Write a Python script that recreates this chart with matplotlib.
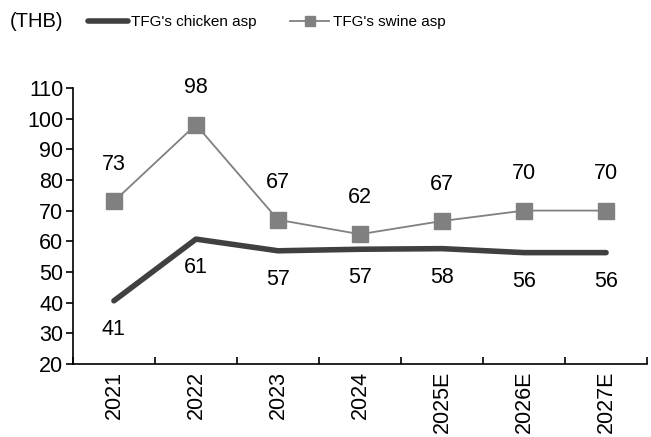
import matplotlib.pyplot as plt
import numpy as np

plt.rcParams['font.family'] = ['Liberation Sans', 'DejaVu Sans']

years = ['2021', '2022', '2023', '2024', '2025E', '2026E', '2027E']
chicken = [40.6, 60.7, 56.9, 57.4, 57.6, 56.3, 56.3]
swine = [73.0, 98.0, 67.0, 62.3, 66.6, 70.0, 70.0]

fig = plt.figure(figsize=(6.51, 4.37), dpi=100)
ax = fig.add_axes([0.112, 0.167, 0.882, 0.632])

x = np.arange(len(years))
ax.plot(x, chicken, color='#404040', lw=4, solid_capstyle='round',
        label="TFG's chicken asp", zorder=3)
ax.plot(x, swine, color='#808080', lw=1.3, marker='s', markersize=11,
        label="TFG's swine asp", zorder=3)

for xi, v in zip(x, swine):
    ax.annotate(f'{v:.0f}', (xi, v), xytext=(0, 19), textcoords='offset points',
                ha='center', va='bottom', fontsize=15.5)
for xi, v in zip(x, chicken):
    ax.annotate(f'{v:.0f}', (xi, v), xytext=(0, -13), textcoords='offset points',
                ha='center', va='top', fontsize=15.5)

ax.set_xlim(-0.5, len(years) - 0.5)
ax.set_ylim(20, 110)
ax.set_yticks(range(20, 111, 10))
ax.set_xticks(x)
ax.set_xticklabels(years, rotation=90, fontsize=15.5)
ax.tick_params(axis='x', length=0, pad=5)
ax.set_xticks(np.arange(-0.5, len(years), 1), minor=True)
ax.tick_params(axis='x', which='minor', direction='in', length=5, width=1.2)
ax.tick_params(axis='y', labelsize=15.5, length=5, width=1.2, pad=2)
for s in ['top', 'right']:
    ax.spines[s].set_visible(False)
for s in ['left', 'bottom']:
    ax.spines[s].set_linewidth(1.2)

fig.text(0.015, 0.95, '(THB)', fontsize=14.5, va='center', ha='left')
fig.legend(loc='center left', bbox_to_anchor=(0.135, 0.95), ncol=2, frameon=False,
           fontsize=11, handlelength=2.6, handletextpad=0.2, columnspacing=2.2,
           borderaxespad=0, borderpad=0, markerscale=0.7)

fig.savefig('out.png', dpi=100)
